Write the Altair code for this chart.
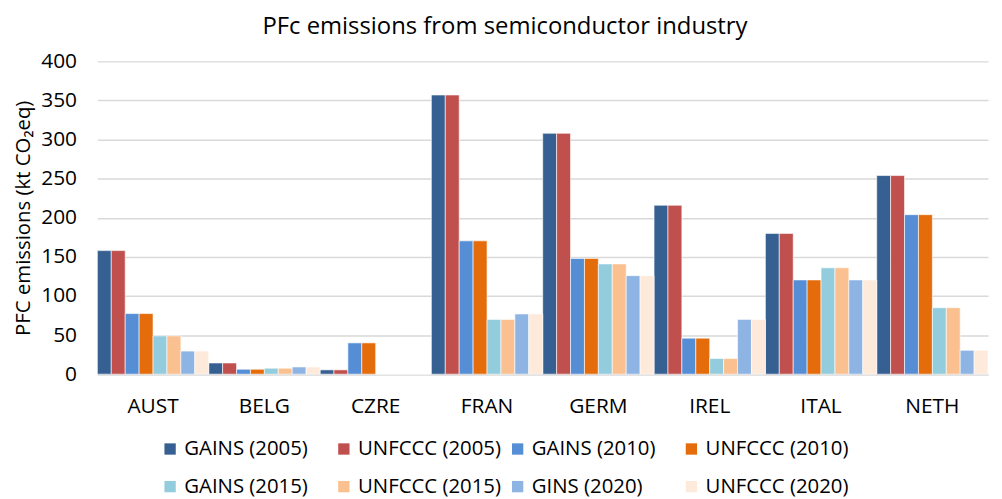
import altair as alt
import pandas as pd

countries = ["AUST", "BELG", "CZRE", "FRAN", "GERM", "IREL", "ITAL", "NETH"]
series = ["GAINS (2005)", "UNFCCC (2005)", "GAINS (2010)", "UNFCCC (2010)",
          "GAINS (2015)", "UNFCCC (2015)", "GINS (2020)", "UNFCCC (2020)"]
colors = ["#376092", "#C0504D", "#558ED5", "#E46C0A",
          "#93CDDD", "#FAC090", "#8EB4E3", "#FDEADA"]

gains_2005 = [158, 14.3, 5.5, 357, 308, 216, 180, 254]
unfccc_2005 = [158, 14.3, 5.5, 357, 308, 216, 180, 254]
gains_2010 = [77.5, 6.3, 40, 170.5, 148, 46, 120.5, 204]
unfccc_2010 = [77.5, 6.3, 40, 170.5, 148, 46, 120.5, 204]
gains_2015 = [49, 7.6, 0, 70, 141, 20, 136, 85]
unfccc_2015 = [49, 7.6, 0, 70, 141, 20, 136, 85]
gins_2020 = [29.5, 9.2, 0, 77, 126, 70, 120.5, 30.5]
unfccc_2020 = [29.5, 9.2, 0, 77, 126, 70, 120.5, 30.5]

values = [gains_2005, unfccc_2005, gains_2010, unfccc_2010,
          gains_2015, unfccc_2015, gins_2020, unfccc_2020]

rows = []
for s, vals in zip(series, values):
    for c, v in zip(countries, vals):
        rows.append({"country": c, "series": s, "value": v})
df = pd.DataFrame(rows)

FONT = "Open Sans"

chart = alt.Chart(df).mark_bar(stroke="white", strokeWidth=0.6).encode(
    x=alt.X("country:N", sort=countries, title=None,
            scale=alt.Scale(paddingInner=0, paddingOuter=0),
            axis=alt.Axis(labelAngle=0, labelFontSize=21, labelFont=FONT,
                          labelColor="#000000", labelPadding=22, ticks=False,
                          domainColor="#D9D9D9", domainWidth=1.5)),
    xOffset=alt.XOffset("series:N", sort=series,
                        scale=alt.Scale(paddingInner=0, paddingOuter=0)),
    y=alt.Y("value:Q", title="PFC emissions (kt CO\u2082eq)",
            scale=alt.Scale(domain=[0, 400], nice=False),
            axis=alt.Axis(values=list(range(0, 401, 50)), labelFontSize=21,
                          labelFont=FONT, labelColor="#000000", labelPadding=21,
                          ticks=False, domain=False, gridColor="#D9D9D9",
                          gridWidth=1.5, titleFont=FONT, titleFontSize=20.5,
                          titleFontWeight="normal", titleColor="#000000",
                          titlePadding=7)),
    color=alt.Color("series:N", sort=series,
                    scale=alt.Scale(domain=series, range=colors),
                    legend=alt.Legend(title=None, orient="none", legendX=63,
                                      legendY=380, columns=4, direction="horizontal",
                                      symbolType="square",
                                      symbolSize=130, symbolStrokeWidth=0,
                                      labelFontSize=20.5, labelFont=FONT,
                                      labelColor="#000000", gridAlign="all",
                                      columnPadding=6, rowPadding=17,
                                      labelLimit=300)),
).properties(
    width=897,
    height=315,
    title=alt.TitleParams("PFc emissions from semiconductor industry",
                          font=FONT, fontSize=24, fontWeight="normal",
                          color="#000000", anchor="middle", dx=-38, offset=12),
).configure_view(stroke=None)

chart.save("out.html", embed_options={"renderer": "svg", "actions": False})
